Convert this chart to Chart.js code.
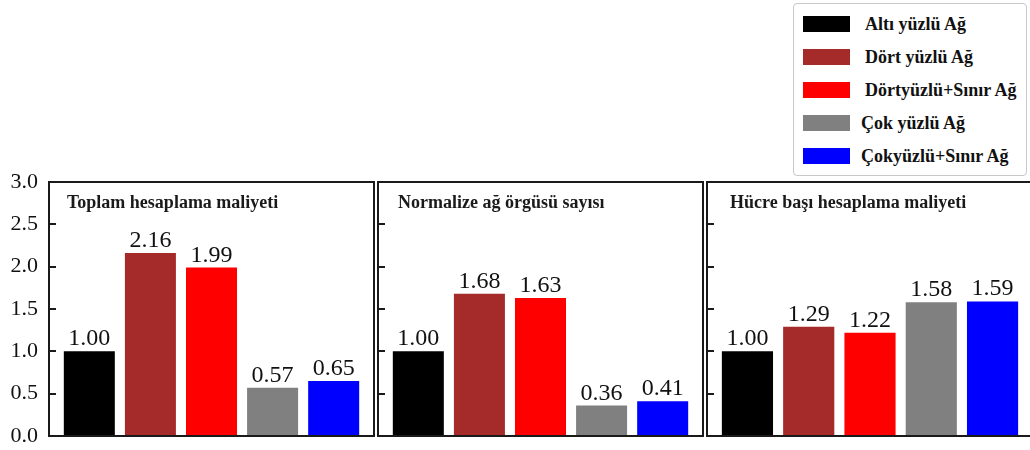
<!DOCTYPE html>
<html>
<head>
<meta charset="utf-8">
<script src="https://cdn.jsdelivr.net/npm/chart.js@4.4.0/dist/chart.umd.min.js"></script>
<style>
  html, body { margin: 0; padding: 0; width: 1030px; height: 450px; overflow: hidden; background: #fff; }
  canvas { position: absolute; top: 0; }
  #legend {
    position: absolute; left: 793px; top: 3px; width: 234px; height: 173px;
    border: 1px solid #c8c8c8; border-radius: 4px; box-sizing: border-box; background: #fff;
    font-family: "Liberation Serif", "Times New Roman", serif; font-weight: bold; font-size: 18px; color: #111;
  }
  .sw { position: absolute; left: 9px; width: 47px; height: 16px; }
  .lbl { position: absolute; white-space: nowrap; line-height: 20px; }
</style>
</head>
<body>
<div id="legend"></div>
<canvas id="c1" width="380" height="450" style="left:0px"></canvas>
<canvas id="c2" width="340" height="450" style="left:370px"></canvas>
<canvas id="c3" width="340" height="450" style="left:700px"></canvas>
<script>
// Mesh types (one bar each per panel)
const categories = ['Altı yüzlü Ağ', 'Dört yüzlü Ağ', 'Dörtyüzlü+Sınır Ağ', 'Çok yüzlü Ağ', 'Çokyüzlü+Sınır Ağ'];
const barColors = ['#000000', '#a52a2a', '#ff0000', '#808080', '#0000ff'];

// Panel titles
const panelTitles = ['Toplam hesaplama maliyeti', 'Normalize ağ örgüsü sayısı', 'Hücre başı hesaplama maliyeti'];

// Normalised values per panel
const totalCost = [1.00, 2.16, 1.99, 0.57, 0.65];
const meshCount = [1.00, 1.68, 1.63, 0.36, 0.41];
const cellCost  = [1.00, 1.29, 1.22, 1.58, 1.59];

// Y axis ticks
const yTicks = [0.0, 0.5, 1.0, 1.5, 2.0, 2.5, 3.0];

const SERIF = '"Liberation Serif", "Times New Roman", serif';

// Legend (HTML)
const legendEl = document.getElementById('legend');
const rowCenters = [20, 53, 86, 119, 152];
categories.forEach((name, i) => {
  const sw = document.createElement('div');
  sw.className = 'sw';
  sw.style.top = (rowCenters[i] - 8) + 'px';
  sw.style.background = barColors[i];
  legendEl.appendChild(sw);
  const lb = document.createElement('div');
  lb.className = 'lbl';
  lb.style.top = (rowCenters[i] - 10) + 'px';
  lb.style.left = (i >= 3 ? 67 : 71) + 'px';
  lb.textContent = name;
  legendEl.appendChild(lb);
});

// Frame, inward ticks, panel title and value labels
const panelDecor = {
  id: 'panelDecor',
  afterDatasetsDraw(chart, args, opts) {
    const { ctx, chartArea: a, scales } = chart;
    const y = scales.y;
    ctx.save();
    // value labels
    ctx.font = '24px ' + SERIF;
    ctx.fillStyle = '#111';
    ctx.textAlign = 'center';
    ctx.textBaseline = 'alphabetic';
    const meta = chart.getDatasetMeta(0);
    const data = chart.data.datasets[0].data;
    meta.data.forEach((bar, i) => {
      ctx.fillText(data[i].y.toFixed(2), bar.x, bar.y - 6);
    });
    // inward tick marks on the left edge
    ctx.strokeStyle = '#1a1a1a';
    ctx.lineWidth = 2;
    yTicks.forEach(v => {
      if (v <= y.min || v >= y.max) return;
      const py = Math.round(y.getPixelForValue(v));
      ctx.beginPath();
      ctx.moveTo(a.left, py);
      ctx.lineTo(a.left + 7, py);
      ctx.stroke();
    });
    // frame
    ctx.strokeRect(a.left, a.top, a.right - a.left, a.bottom - a.top);
    // title inside the frame
    ctx.font = 'bold 18px ' + SERIF;
    ctx.fillStyle = '#1a1a1a';
    ctx.textAlign = 'left';
    ctx.textBaseline = 'middle';
    ctx.fillText(opts.title, a.left + opts.titleX, a.top + 21);
    ctx.restore();
  }
};

function makePanel(id, values, title, showY, pad, titleX) {
  return new Chart(document.getElementById(id), {
    type: 'bar',
    data: {
      datasets: [{
        data: values.map((v, i) => ({ x: i, y: v })),
        backgroundColor: barColors,
        borderWidth: 0,
        barPercentage: 0.835,
        categoryPercentage: 1.0
      }]
    },
    options: {
      responsive: false,
      devicePixelRatio: 1,
      animation: false,
      layout: { padding: pad },
      plugins: {
        legend: { display: false },
        tooltip: { enabled: false },
        panelDecor: { title: title, titleX: titleX }
      },
      scales: {
        x: {
          type: 'linear',
          min: -0.66,
          max: 4.66,
          offset: false,
          display: false,
          afterBuildTicks: s => { s.ticks = categories.map((c, i) => ({ value: i })); }
        },
        y: {
          min: 0,
          max: 3,
          display: showY,
          afterFit: s => {
            if (showY) s.width = 49;
            s.paddingTop = 0;
            s.paddingBottom = 0;
          },
          afterBuildTicks: s => { s.ticks = yTicks.map(v => ({ value: v })); },
          grid: { display: false, drawTicks: false },
          border: { display: false },
          ticks: {
            padding: 11,
            color: '#111',
            font: { family: SERIF, size: 22 },
            callback: v => Number(v).toFixed(1)
          }
        }
      }
    },
    plugins: [panelDecor]
  });
}

makePanel('c1', totalCost, panelTitles[0], true,  { left: 0, right: 6, top: 182, bottom: 14 }, 18);
makePanel('c2', meshCount, panelTitles[1], false, { left: 8, right: 7, top: 182, bottom: 14 }, 20);
makePanel('c3', cellCost,  panelTitles[2], false, { left: 7, right: 7, top: 182, bottom: 14 }, 23);
</script>
</body>
</html>
